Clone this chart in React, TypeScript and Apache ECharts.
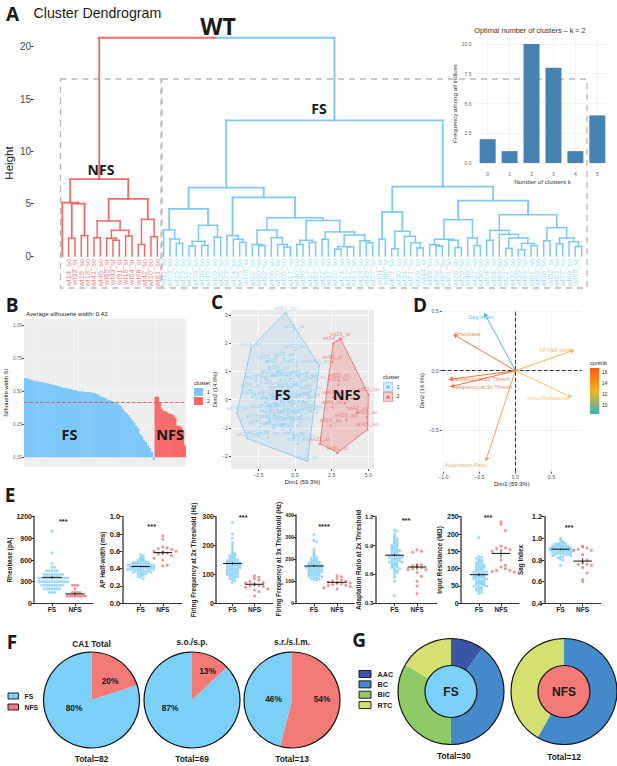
import React, { useEffect, useRef } from "react";
import * as echarts from "echarts";

// ---------- Panel A data ----------
type Node = string | [number, Node, Node];
const nfsTree: Node = [7.35,
  [5.1, "wt53_so", [5.0, [1.7, "wt14_so", "wt33_sr"], [1.95, "wt16_so", "wt18_so"]]],
  [5.45,
    [3.35, [1.75, "wt41_so", "wt46_so"], [2.45, [1.7, "wt65_sr", [1.5, "wt43_sr", "wt51_sr"]], [1.9, "wt15_sr", "wt54_sr"]]],
    [3.5, [1.1, "wt08_sr", "wt42_so"], [1.85, "wt10_so", "wt81_so"]]]];
const fsLeftTree: Node = [6.53,
  [4.5,
    [2.5, "wt11_so", [1.62, "wt03_so", [1.2, "wt25_so", "wt79_so"]]],
    [2.93, [1.4, [0.95, "wt72_so", "wt78_so"], [1.0, "wt36_so", "wt45_so"]], [1.8, "wt09_so", "wt26_so"]]],
  [5.6,
    [1.95, "wt73_so", [1.6, "wt74_so", [1.3, "wt75_so", "wt76_sr"]]],
    [3.65,
      [2.48, [1.1, "wt02_so", [1.0, "wt60_so", "wt82_so"]], [1.75, "wt06_so", [1.1, "wt70_so", [0.86, "wt05_so", "wt17_so"]]]],
      [3.4,
        [1.5, [1.1, "wt40_so", "wt56_so"], [1.3, "wt37_so", "wt62_so"]],
        [2.3, [1.6, "wt22_so", "wt47_so"],
          [2.0, [0.9, [0.65, "wt20_so", "wt24_so"], [0.85, "wt12_so", "wt13_so"]], [1.46, "wt23_so", [1.27, "wt49_so", "wt57_so"]]]]]]]];
const fsRightTree: Node = [6.62,
  [4.2,
    [1.6, "wt31_sr", "wt80_sr"],
    [2.36, [0.7, "wt07_so", "wt30_so"], [1.88, "wt34_so", [1.27, "wt71_so", [0.76, "wt19_so", "wt44_sr"]]]]],
  [5.3,
    [3.47,
      [1.6, [1.08, "wt39_so", [0.95, "wt58_so", "wt67_so"]], [1.5, "wt01_so", [0.8, "wt28_so", "wt29_so"]]],
      [1.72, "wt48_so", [1.0, "wt27_so", "wt50_so"]]],
    [3.95,
      [2.45, [1.5, "wt04_so", "wt64_so"],
        [2.07, "wt83_so", [1.72, [0.73, "wt21_so", "wt32_so"], [1.2, [0.6, "wt35_so", "wt69_so"], [1.0, "wt61_so", "wt59_so"]]]]],
      [2.7, [1.46, "wt38_so", "wt52_sr"],
        [1.72, [1.17, "wt63_so", "wt77_so"], [1.37, "wt68_so", [0.9, "wt55_sr", "wt66_so"]]]]]]];
const fsRootHeight = 12.96;
const wtRootHeight = 20.85;

const kCategories = [0, 1, 2, 3, 4, 5];
const kFrequencies = [2, 1, 10, 8, 1, 4];

// ---------- Panel B data ----------
const silhouetteFS = [
  0.6, 0.6, 0.595, 0.59, 0.585, 0.58, 0.58, 0.575, 0.57, 0.57,
  0.565, 0.56, 0.56, 0.555, 0.55, 0.55, 0.545, 0.54, 0.535, 0.53,
  0.525, 0.525, 0.52, 0.52, 0.515, 0.51, 0.51, 0.505, 0.5, 0.5,
  0.5, 0.495, 0.495, 0.495, 0.49, 0.49, 0.485, 0.48, 0.47, 0.46,
  0.455, 0.45, 0.44, 0.435, 0.43, 0.425, 0.42, 0.41, 0.4, 0.39,
  0.37, 0.35, 0.335, 0.32, 0.3, 0.28, 0.26, 0.24, 0.22, 0.175,
  0.16, 0.13, 0.115, 0.09, 0.07, 0.04, -0.02];
const silhouetteNFS = [0.46, 0.46, 0.42, 0.37, 0.35, 0.35, 0.34, 0.33, 0.33, 0.32, 0.3, 0.24, 0.24, 0.23, 0.21, 0.09];
const silhouetteAvg = 0.42;

// ---------- Panel C data ----------
const pcaFS: [string, number, number][] = [
  ["wt83_so", -0.65, 3.07], ["wt31_sr", -0.05, 2.45], ["wt11_so", -3.0, 1.82], ["wt30_so", 0.0, 1.75],
  ["wt03_sr", -1.85, 1.35], ["wt07_so", -0.75, 1.45], ["wt60_sr", -1.35, 1.2], ["wt71_so", 0.1, 1.2],
  ["wt64_so", 1.65, 1.2], ["wt59_so", -1.15, 1.0], ["wt06_so", -1.6, 0.85], ["wt05_so", -0.6, 0.85],
  ["wt25_so", -2.65, 0.65], ["wt17_so", -1.9, 0.7], ["wt19_so", -1.7, 0.45], ["wt44_sr", -1.0, 0.7],
  ["wt76_sr", -3.05, 0.35], ["wt73_so", -0.3, 0.75], ["wt72_so", -0.05, 0.55], ["wt45_so", 0.3, 0.8],
  ["wt79_so", 0.75, 0.7], ["wt26_so", 1.35, 0.65], ["wt01_so", 0.4, 0.4], ["wt50_so", 1.05, 0.3],
  ["wt58_so", 0.95, 0.05], ["wt02_so", -2.9, 0.1], ["wt74_so", -2.2, 0.05], ["wt36_so", -1.5, 0.15],
  ["wt40_so", -0.9, 0.3], ["wt56_so", -0.5, 0.35], ["wt04_so", -2.0, -0.1], ["wt62_so", -1.35, -0.1],
  ["wt09_so", -0.95, -0.05], ["wt37_so", -0.4, 0.05], ["wt22_so", 0.1, 0.1], ["wt47_so", 0.55, -0.05],
  ["wt67_so", 0.2, -0.25], ["wt69_so", -0.2, -0.2], ["wt75_so", -0.75, -0.3], ["wt12_so", -1.2, -0.35],
  ["wt24_so", -1.7, -0.35], ["wt74b_so", -3.95, -0.47], ["wt20_so", -2.3, -0.4], ["wt21_so", -1.45, -0.55],
  ["wt13_so", -0.95, -0.6], ["wt63_so", -0.5, -0.55], ["wt28_so", 0.0, -0.5], ["wt52_sr", 0.45, -0.55],
  ["wt29_so", 1.1, -0.4], ["wt35_so", 1.5, -0.45], ["wt78_so", -2.6, -0.75], ["wt48_so", -1.75, -0.75],
  ["wt55_sr", -1.2, -0.8], ["wt32_so", -0.7, -0.85], ["wt82_so", -0.15, -0.8], ["wt39_so", 0.35, -0.8],
  ["wt70_so", -2.4, -0.95], ["wt61_so", -1.45, -1.0], ["wt49_so", -0.85, -1.05], ["wt57_so", -0.3, -1.05],
  ["wt27_so", -3.25, -1.37], ["wt10b_so", -2.45, -1.3], ["wt77_so", -1.85, -1.35], ["wt68_so", -0.1, -1.35],
  ["wt23_so", 0.55, -1.4], ["wt66_so", 0.2, -1.55], ["wt38_so", 0.85, -2.18]];
const pcaNFS: [string, number, number][] = [
  ["wt15_sr", 3.1, 2.15], ["wt54_sr", 2.6, 2.0], ["wt43_sr", 2.55, 1.35], ["wt65_sr", 3.0, 0.7],
  ["wt51_so", 2.95, 0.55], ["wt53_so", 5.0, 0.2], ["wt41_so", 2.6, 0.1], ["wt46_so", 2.55, -0.25],
  ["wt10_so", 3.4, -0.1], ["wt42_so", 4.25, -0.45], ["wt18_so", 4.9, -0.6], ["wt08_so", 3.5, -0.7],
  ["wt14_so", 2.45, -0.9], ["wt16_so", 4.95, -1.05], ["wt33_sr", 1.7, -1.55], ["wt81_so", 2.9, -1.87]];
const hullFS: [number, number][] = [[-0.65, 3.07], [1.65, 1.2], [0.85, -2.18], [-3.25, -1.37], [-3.95, -0.47], [-3.0, 1.82]];
const hullNFS: [number, number][] = [[3.1, 2.15], [2.6, 2.0], [1.7, -1.55], [2.9, -1.87], [4.95, -1.05], [5.0, 0.2]];

// ---------- Panel D data ----------
const varNames = ["Sag.Index", "Rheobase", "AP.Half.width", "Frequency.at.2x.Thresh", "Frequency.at.3x.Thresh", "Input.Resistance", "Adaptation.Ratio"];
const varDim1 = [-0.43, -0.86, 0.815, -0.917, -0.9, 0.78, -0.41];
const varDim2 = [0.483, 0.305, 0.173, -0.073, -0.134, -0.223, -0.757];
const varLabelDim1 = [-0.477, -0.66, 0.56, -0.49, -0.46, 0.46, -0.685];
const varLabelDim2 = [0.45, 0.307, 0.176, -0.07, -0.14, -0.23, -0.793];
const varColors = ["#35b5bf", "#ec6a34", "#efac42", "#f0642a", "#f0642a", "#efbe45", "#f29a3e"];

// ---------- Panel E data ----------
const rheobaseFS = [1000, 700, 550, 500, 500, 450, 450, 450, 450, 450, 400, 400, 400, 400, 400, 400, 400, 400, 350, 350, 350, 350, 350, 350, 350, 350, 350, 350, 350, 350, 300, 300, 300, 300, 300, 300, 300, 300, 300, 300, 300, 300, 250, 250, 250, 250, 250, 250, 250, 250, 250, 200, 200, 200, 200, 200, 200, 200, 150, 150, 150];
const rheobaseNFS = [250, 250, 250, 200, 150, 150, 150, 150, 100, 100, 100, 100, 100, 100, 100, 100];
const halfWidthFS = [0.56, 0.55, 0.53, 0.52, 0.51, 0.5, 0.5, 0.49, 0.49, 0.48, 0.48, 0.47, 0.47, 0.47, 0.46, 0.46, 0.46, 0.45, 0.45, 0.45, 0.45, 0.44, 0.44, 0.44, 0.44, 0.43, 0.43, 0.43, 0.43, 0.43, 0.42, 0.42, 0.42, 0.42, 0.42, 0.41, 0.41, 0.41, 0.41, 0.4, 0.4, 0.4, 0.4, 0.39, 0.39, 0.39, 0.38, 0.38, 0.38, 0.37, 0.37, 0.37, 0.36, 0.36, 0.35, 0.35, 0.34, 0.34, 0.33, 0.32, 0.31, 0.3, 0.28];
const halfWidthNFS = [0.78, 0.74, 0.65, 0.64, 0.63, 0.62, 0.6, 0.6, 0.59, 0.58, 0.57, 0.55, 0.52, 0.5, 0.44, 0.43];
const freq2xFS = [280, 240, 225, 210, 200, 190, 180, 175, 172, 170, 168, 165, 162, 160, 158, 155, 152, 150, 150, 148, 146, 145, 143, 142, 140, 140, 138, 137, 136, 135, 134, 132, 130, 130, 128, 127, 125, 124, 122, 120, 120, 118, 116, 115, 113, 112, 110, 108, 106, 105, 103, 102, 100, 98, 96, 95, 92, 90, 88, 85, 82, 78, 72];
const freq2xNFS = [95, 90, 85, 80, 75, 72, 70, 65, 62, 60, 58, 55, 50, 46, 40, 25];
const freq3xFS = [312, 285, 278, 245, 235, 225, 220, 212, 208, 205, 200, 198, 195, 192, 190, 188, 186, 184, 182, 180, 178, 176, 174, 172, 170, 170, 168, 166, 165, 164, 162, 160, 158, 157, 155, 153, 152, 150, 148, 147, 145, 143, 142, 140, 138, 136, 135, 132, 130, 128, 126, 125, 122, 120, 118, 115, 112, 110, 108, 105];
const freq3xNFS = [125, 120, 112, 105, 102, 100, 96, 92, 90, 88, 85, 82, 80, 76, 70, 65];
const adaptFS = [1.06, 1.05, 1.02, 1.0, 0.98, 0.97, 0.96, 0.95, 0.94, 0.93, 0.92, 0.91, 0.9, 0.89, 0.89, 0.88, 0.87, 0.86, 0.86, 0.85, 0.84, 0.84, 0.83, 0.82, 0.82, 0.81, 0.8, 0.8, 0.79, 0.79, 0.78, 0.78, 0.77, 0.77, 0.76, 0.76, 0.75, 0.75, 0.74, 0.74, 0.73, 0.73, 0.72, 0.72, 0.71, 0.7, 0.7, 0.69, 0.68, 0.68, 0.67, 0.66, 0.65, 0.64, 0.63, 0.62, 0.6, 0.57, 0.53, 0.38];
const adaptNFS = [0.855, 0.84, 0.83, 0.7, 0.7, 0.69, 0.68, 0.67, 0.66, 0.65, 0.65, 0.62, 0.58, 0.53, 0.48, 0.4];
const resistanceFS = [190, 135, 133, 130, 126, 124, 122, 120, 118, 115, 113, 112, 110, 108, 106, 105, 103, 102, 100, 98, 96, 95, 94, 92, 90, 90, 88, 86, 85, 84, 82, 80, 80, 78, 77, 76, 75, 74, 72, 70, 70, 68, 66, 65, 64, 62, 60, 60, 58, 56, 55, 54, 52, 50, 50, 48, 46, 44, 42, 40, 38, 35, 32, 28];
const resistanceNFS = [235, 228, 210, 165, 160, 158, 155, 150, 125, 110, 105, 100, 95, 95, 92, 90];
const sagFS = [1.0, 0.98, 0.97, 0.96, 0.96, 0.95, 0.95, 0.95, 0.94, 0.94, 0.94, 0.93, 0.93, 0.93, 0.93, 0.92, 0.92, 0.92, 0.92, 0.91, 0.91, 0.91, 0.91, 0.91, 0.9, 0.9, 0.9, 0.9, 0.9, 0.89, 0.89, 0.89, 0.89, 0.89, 0.88, 0.88, 0.88, 0.88, 0.87, 0.87, 0.87, 0.87, 0.86, 0.86, 0.86, 0.85, 0.85, 0.85, 0.84, 0.84, 0.83, 0.83, 0.82, 0.81, 0.8, 0.75];
const sagNFS = [0.93, 0.92, 0.91, 0.9, 0.89, 0.89, 0.85, 0.8, 0.78, 0.76, 0.76, 0.75, 0.73, 0.68, 0.62, 0.6];
const eMeans = [[360, 130], [0.425, 0.585], [138, 66], [169, 95], [0.8, 0.677], [82.6, 144], [0.9, 0.79]];
const eSems = [[22, 18], [0.008, 0.025], [5, 6], [5, 6], [0.012, 0.03], [3.5, 12], [0.006, 0.03]];
const eTitles = ["Rheobase (pA)", "AP Half-width (ms)", "Firing Frequency at 2x Threshold (Hz)", "Firing Frequency at 3x Threshold (Hz)", "Adaptation Ratio at 2x Threshold", "Input Resistance (MΩ)", "Sag Index"];
const eStars = ["***", "***", "***", "****", "***", "***", "***"];
const eGroups = ["FS", "NFS"];

// ---------- Panels F, G data ----------
const caTotal = [{ name: "NFS", value: 20 }, { name: "FS", value: 80 }];
const soSp = [{ name: "NFS", value: 13 }, { name: "FS", value: 87 }];
const srSlm = [{ name: "NFS", value: 54 }, { name: "FS", value: 46 }];
const fTitles = ["CA1 Total", "s.o./s.p.", "s.r./s.l.m."];
const fTotals = ["Total=82", "Total=69", "Total=13"];
const fsTypes = [{ name: "AAC", value: 3 }, { name: "BC", value: 12 }, { name: "BiC", value: 10 }, { name: "RTC", value: 5 }];
const nfsTypes = [{ name: "BC", value: 7 }, { name: "RTC", value: 5 }];
const gTotals = ["Total=30", "Total=12"];

// ---------- styling ----------
const BLUE = "#7cc9f4";
const RED = "#f06a6a";
const PIE_BLUE = "#7bd0f7";
const PIE_RED = "#f47a78";
const TYPE_COLORS: Record<string, string> = { AAC: "#3a55a4", BC: "#4489c9", BiC: "#8fca67", RTC: "#d4e070" };
const SANS = "Liberation Sans";
const BOLD = "Open Sans";

function flatten(n: Node): string[] {
  return typeof n === "string" ? [n] : [...flatten(n[1]), ...flatten(n[2])];
}
const leafLabels = [...flatten(nfsTree), ...flatten(fsLeftTree), ...flatten(fsRightTree)];
const nfsCount = flatten(nfsTree).length;

type Seg = [number, number, number, number, string, number];
function buildSegments(): Seg[] {
  const segs: Seg[] = [];
  let leaf = 0;
  const walk = (n: Node, c: string): { x: number; h: number } => {
    if (typeof n === "string") return { x: leaf++, h: 0 };
    const l = walk(n[1], c);
    const r = walk(n[2], c);
    const lw = n[0] > 4 ? 1.8 : 1.5;
    segs.push([l.x, l.h, l.x, n[0], c, lw], [r.x, r.h, r.x, n[0], c, lw], [l.x, n[0], r.x, n[0], c, lw]);
    return { x: (l.x + r.x) / 2, h: n[0] };
  };
  const nfs = walk(nfsTree, RED);
  const fsTree: Node = [fsRootHeight, fsLeftTree, fsRightTree];
  const fs = walk(fsTree, BLUE);
  const mid = (nfs.x + fs.x) / 2;
  segs.push([nfs.x, nfs.h, nfs.x, wtRootHeight, RED, 1.9], [nfs.x, wtRootHeight, mid, wtRootHeight, RED, 1.9],
    [mid, wtRootHeight, fs.x, wtRootHeight, BLUE, 1.9], [fs.x, fs.h, fs.x, wtRootHeight, BLUE, 1.9]);
  return segs;
}

function swarm(vals: number[], center: number, bin: number, step: number): [number, number][] {
  const counts = new Map<number, number>();
  return vals.map((v) => {
    const k = Math.round(v / bin);
    const c = counts.get(k) ?? 0;
    counts.set(k, c + 1);
    const off = c === 0 ? 0 : (c % 2 ? 1 : -1) * Math.ceil(c / 2) * step;
    return [center + off, v];
  });
}

function txt(text: string, x: number, y: number, fontSize: number, opts: any = {}) {
  const { fill = "#1a1a1a", weight = "normal", family = SANS, align = "center", rotation = 0, z = 30 } = opts;
  return { type: "text", x, y, rotation, z, style: { text, fontSize, fontFamily: family, fontWeight: weight, fill, align, verticalAlign: "middle" } };
}

function buildOption() {
  const grid: any[] = [];
  const xAxis: any[] = [];
  const yAxis: any[] = [];
  const series: any[] = [];
  const graphic: any[] = [];
  const addGrid = (g: any, x: any, y: any) => {
    grid.push({ containLabel: false, ...g });
    xAxis.push({ gridIndex: grid.length - 1, ...x });
    yAxis.push({ gridIndex: grid.length - 1, ...y });
    return grid.length - 1;
  };

  // ===== A: dendrogram =====
  const a = addGrid(
    { left: 62.3, top: 46.7, width: 519.4, height: 209.3 },
    {
      type: "value", min: 0, max: leafLabels.length - 1, interval: 1, splitLine: { show: false }, axisLine: { show: false, onZero: false }, axisTick: { show: false },
      axisLabel: {
        rotate: 90, margin: 3, fontSize: 7.4, fontFamily: SANS,
        formatter: (v: number) => leafLabels[v] ?? "",
        color: (v: any) => (Number(v) < nfsCount ? "#f28a8a" : "#a5dcf6"),
      },
    },
    { type: "value", min: 0, max: 20, interval: 5, show: false, splitLine: { show: false } });
  // the height axis stands apart from the plot, in a narrow grid of its own
  addGrid(
    { left: 33.5, top: 46.7, width: 1, height: 209.3 },
    { type: "value", min: 0, max: 1, show: false, splitLine: { show: false } },
    {
      type: "value", min: 0, max: 20, interval: 5, splitLine: { show: false },
      axisLine: { show: false, onZero: false }, axisTick: { show: true, length: 2.5, lineStyle: { color: "#333" } },
      axisLabel: { fontSize: 10, color: "#4a4a4a", margin: 2.5, fontFamily: SANS },
    });
  const segs = buildSegments();
  series.push({
    type: "custom", xAxisIndex: a, yAxisIndex: a, silent: true, clip: false,
    data: segs.map((s) => [s[0], s[1], s[2], s[3]]),
    renderItem: (p: any, api: any) => {
      const s = segs[p.dataIndex];
      const c1 = api.coord([s[0], s[1]]);
      const c2 = api.coord([s[2], s[3]]);
      return { type: "line", shape: { x1: c1[0], y1: c1[1], x2: c2[0], y2: c2[1] }, style: { stroke: s[4], lineWidth: s[5], lineCap: "square" } };
    },
  });
  graphic.push(
    { type: "rect", z: 1, shape: { x: 60.5, y: 79, width: 100.5, height: 209 }, style: { fill: "none", stroke: "#b8b8b8", lineWidth: 1.3, lineDash: [6, 5] } },
    { type: "rect", z: 1, shape: { x: 162, y: 79, width: 425, height: 209 }, style: { fill: "none", stroke: "#b8b8b8", lineWidth: 1.3, lineDash: [6, 5] } },
    txt("A", 12.5, 14, 19, { weight: "bold", family: BOLD }),
    txt("Cluster Dendrogram", 33.5, 12.5, 14.2, { align: "left" }),
    txt("WT", 218, 26, 23, { weight: "bold", family: BOLD }),
    txt("FS", 319, 108, 14, { weight: "bold", family: BOLD }),
    txt("NFS", 101, 169, 14, { weight: "bold", family: BOLD }),
    txt("Height", 8.5, 163, 11.5, { rotation: Math.PI / 2 }),
    txt("Optimal number of clusters – k = 2", 530, 30.7, 7.3, { fill: "#333" }),
  );

  // inset
  const inset = addGrid(
    { left: 474.5, top: 38, width: 136, height: 131 },
    {
      type: "value", min: -0.6, max: 5.6,
      splitLine: { show: true, lineStyle: { color: "#ececec", width: 0.6 } }, axisLine: { show: false, onZero: false },
      axisTick: { show: false, customValues: kCategories },
      axisLabel: { customValues: kCategories, fontSize: 5, color: "#666", margin: 2, fontFamily: SANS },
      name: "Number of clusters k", nameLocation: "middle", nameGap: 9, nameTextStyle: { fontSize: 6.2, color: "#333", fontFamily: SANS },
    },
    {
      type: "value", min: -0.5, max: 10.5,
      splitLine: { show: true, lineStyle: { color: "#ececec", width: 0.6 } }, axisLine: { show: false, onZero: false },
      axisTick: { show: false, customValues: [0, 2.5, 5, 7.5, 10] },
      axisLabel: { customValues: [0, 2.5, 5, 7.5, 10], fontSize: 5, color: "#666", margin: 3, fontFamily: SANS, formatter: (v: number) => v.toFixed(1) },
      name: "Frequency among all indices", nameLocation: "middle", nameGap: 15.5, nameTextStyle: { fontSize: 6.2, color: "#333", fontFamily: SANS },
    });
  series.push({
    type: "bar", xAxisIndex: inset, yAxisIndex: inset, barWidth: 16, z: 5,
    data: kCategories.map((k, i) => [k, kFrequencies[i]]), itemStyle: { color: "#4682b4" },
  });

  // ===== B: silhouette =====
  const silAll = [...silhouetteFS, ...silhouetteNFS];
  const yB = [0, 0.25, 0.5, 0.75, 1];
  const b = addGrid(
    { left: 24, top: 319, width: 162, height: 148, show: true, backgroundColor: "#ebebeb", borderWidth: 0 },
    {
      type: "category", data: silAll.map((_, i) => i), axisLabel: { show: false }, axisTick: { show: false }, axisLine: { show: false },
      splitLine: { show: true, interval: 0, lineStyle: { color: "#f6f6f6", width: 0.5 } },
    },
    {
      type: "value", min: -0.074, max: 1.05,
      splitLine: { show: true, lineStyle: { color: "#f6f6f6", width: 0.6 } }, axisLine: { show: false, onZero: false },
      axisTick: { show: true, length: 2, customValues: yB, lineStyle: { color: "#555" } },
      axisLabel: { customValues: yB, fontSize: 4.6, color: "#666", margin: 2, fontFamily: SANS, formatter: (v: number) => v.toFixed(2) },
      name: "Silhouette width Si", nameLocation: "middle", nameGap: 13, nameTextStyle: { fontSize: 5.8, color: "#222", fontFamily: SANS },
    });
  series.push({
    type: "bar", xAxisIndex: b, yAxisIndex: b, barWidth: 2.4,
    data: silAll.map((v, i) => ({ value: v, itemStyle: { color: i < silhouetteFS.length ? "#7cc8fb" : "#fb6767" } })),
    markLine: { silent: true, symbol: "none", label: { show: false }, lineStyle: { color: "#e8525a", type: "dashed", width: 0.9 }, data: [{ yAxis: silhouetteAvg }] },
  });
  graphic.push(
    txt("B", 12, 305, 19, { weight: "bold", family: BOLD }),
    txt("Average silhouette width: 0.42", 26, 313, 6.1, { align: "left", fill: "#222" }),
    txt("FS", 69.5, 434, 14.5, { weight: "bold", family: BOLD }),
    txt("NFS", 170, 434, 14.5, { weight: "bold", family: BOLD }),
    txt("cluster", 194, 383, 5.6, { align: "left" }),
    { type: "rect", z: 10, shape: { x: 194, y: 388, width: 9, height: 8 }, style: { fill: "#7cc8fb" } },
    { type: "rect", z: 10, shape: { x: 194, y: 397, width: 9, height: 8 }, style: { fill: "#fb6767" } },
    txt("1", 207, 392, 4.8, { align: "left" }),
    txt("2", 207, 401, 4.8, { align: "left" }),
  );

  // ===== C: PCA =====
  const xC = [-2.5, 0, 2.5, 5];
  const yC = [-2, -1, 0, 1, 2, 3];
  const c = addGrid(
    { left: 231, top: 310, width: 143, height: 159, show: true, backgroundColor: "#ebebeb", borderWidth: 0 },
    {
      type: "value", min: -4.36, max: 5.385, splitLine: { show: true, lineStyle: { color: "#fff", width: 0.7 } }, axisLine: { show: false, onZero: false },
      axisTick: { show: true, length: 2, customValues: xC, lineStyle: { color: "#555" } },
      axisLabel: { customValues: xC, fontSize: 5.2, color: "#555", margin: 3, fontFamily: SANS, formatter: (v: number) => (v === 0 ? "0.0" : v.toFixed(1).replace("-", "−")) },
      name: "Dim1 (59.3%)", nameLocation: "middle", nameGap: 10, nameTextStyle: { fontSize: 5.8, color: "#222", fontFamily: SANS },
    },
    {
      type: "value", min: -2.45, max: 3.17, splitLine: { show: true, lineStyle: { color: "#fff", width: 0.7 } }, axisLine: { show: false, onZero: false },
      axisTick: { show: true, length: 2, customValues: yC, lineStyle: { color: "#555" } },
      axisLabel: { customValues: yC, fontSize: 5.2, color: "#555", margin: 3, fontFamily: SANS, formatter: (v: number) => String(v).replace("-", "−") },
      name: "Dim2 (14.6%)", nameLocation: "middle", nameGap: 11, nameTextStyle: { fontSize: 5.8, color: "#222", fontFamily: SANS },
    });
  const poly = (pts: [number, number][], fill: string, stroke: string) => ({
    type: "custom", xAxisIndex: c, yAxisIndex: c, silent: true, clip: false, z: 2, data: pts,
    renderItem: (p: any, api: any) => p.dataIndex === 0 ? { type: "polygon", shape: { points: pts.map((q) => api.coord(q)) }, style: { fill, stroke, lineWidth: 0.9 } } : null,
  });
  series.push(poly(hullFS, "rgba(125,200,245,0.18)", "#86c9ef"), poly(hullNFS, "rgba(240,90,90,0.25)", "#ee6f6f"));
  const pcaScatter = (rows: [string, number, number][], color: string, symbol: string, size: number) => ({
    type: "scatter", xAxisIndex: c, yAxisIndex: c, silent: true, z: 3, symbol, symbolSize: size,
    data: rows.map((r) => ({ value: [r[1], r[2]], name: r[0].replace("b_", "_") })),
    itemStyle: { color },
    label: { show: true, position: "top", distance: 0.5, fontSize: 5.9, color, fontFamily: SANS, formatter: "{b}" },
    labelLayout: { hideOverlap: false },
  });
  series.push(pcaScatter(pcaFS, "#8fd0f4", "circle", 2.2), pcaScatter(pcaNFS, "#ef6f70", "triangle", 2.8));
  graphic.push(
    txt("C", 217, 302, 19, { weight: "bold", family: BOLD }),
    txt("FS", 282.5, 394.5, 14.5, { weight: "bold", family: BOLD }),
    txt("NFS", 346.5, 394.5, 14.5, { weight: "bold", family: BOLD }),
    txt("cluster", 383, 376.7, 5.6, { align: "left" }),
    { type: "rect", z: 10, shape: { x: 383.5, y: 382.5, width: 9, height: 9 }, style: { fill: "rgba(125,200,245,0.35)", stroke: "#86c9ef", lineWidth: 0.7 } },
    { type: "circle", z: 11, shape: { cx: 388, cy: 387, r: 1.6 }, style: { fill: "#6fc0ee" } },
    { type: "rect", z: 10, shape: { x: 383.5, y: 392.3, width: 9, height: 9 }, style: { fill: "rgba(240,90,90,0.3)", stroke: "#ee6f6f", lineWidth: 0.7 } },
    { type: "polygon", z: 11, shape: { points: [[388, 394.8], [386, 398.5], [390, 398.5]] }, style: { fill: "#ee5f60" } },
    txt("1", 396.7, 387, 4.8, { align: "left" }),
    txt("2", 396.7, 396.8, 4.8, { align: "left" }),
  );

  // ===== D: variables =====
  const xD = [-1, -0.5, 0, 0.5];
  const yD = [-0.5, 0, 0.5];
  const dXmin = -1.022, dXmax = 0.92, dYmin = -0.848, dYmax = 0.51;
  const d = addGrid(
    { left: 441.7, top: 310, width: 140, height: 161.7 },
    {
      type: "value", min: dXmin, max: dXmax, splitLine: { show: true, lineStyle: { color: "#ececec", width: 0.7 } }, axisLine: { show: false, onZero: false },
      axisTick: { show: true, length: 2, customValues: xD, lineStyle: { color: "#555" } },
      axisLabel: { customValues: xD, fontSize: 5.2, color: "#555", margin: 3, fontFamily: SANS, formatter: (v: number) => v.toFixed(1).replace("-", "−") },
      name: "Dim1 (59.3%)", nameLocation: "middle", nameGap: 9.5, nameTextStyle: { fontSize: 5.8, color: "#222", fontFamily: SANS },
    },
    {
      type: "value", min: dYmin, max: dYmax, splitLine: { show: true, lineStyle: { color: "#ececec", width: 0.7 } }, axisLine: { show: false, onZero: false },
      axisTick: { show: true, length: 2, customValues: yD, lineStyle: { color: "#555" } },
      axisLabel: { customValues: yD, fontSize: 5.2, color: "#555", margin: 3, fontFamily: SANS, formatter: (v: number) => v.toFixed(1).replace("-", "−") },
      name: "Dim2 (14.6%)", nameLocation: "middle", nameGap: 12, nameTextStyle: { fontSize: 5.8, color: "#222", fontFamily: SANS },
    });
  series.push({
    type: "lines", coordinateSystem: "cartesian2d", xAxisIndex: d, yAxisIndex: d, silent: true, z: 3,
    symbol: "none", lineStyle: { color: "#333", type: "dashed", width: 1, opacity: 1 },
    data: [{ coords: [[dXmin, 0], [dXmax, 0]] }, { coords: [[0, dYmin], [0, dYmax]] }],
  });
  series.push({
    type: "lines", coordinateSystem: "cartesian2d", xAxisIndex: d, yAxisIndex: d, silent: true, z: 4,
    symbol: ["none", "arrow"], symbolSize: 4,
    data: varNames.map((_, i) => ({ coords: [[0, 0], [varDim1[i], varDim2[i]]], lineStyle: { color: varColors[i], width: 0.9, opacity: 1 } })),
  });
  series.push({
    type: "scatter", xAxisIndex: d, yAxisIndex: d, silent: true, z: 5, symbolSize: 0.1,
    data: varNames.map((n, i) => ({
      value: [varLabelDim1[i], varLabelDim2[i]], name: n,
      label: { show: true, position: "inside", color: varColors[i], fontSize: 5.7, fontFamily: SANS, formatter: "{b}" },
    })),
    labelLayout: { hideOverlap: false },
  });
  graphic.push(
    txt("D", 420, 305, 19, { weight: "bold", family: BOLD }),
    txt("contrib", 590, 362.5, 5.6, { align: "left" }),
    {
      type: "rect", z: 10, shape: { x: 590, y: 368, width: 9.3, height: 46 },
      style: { fill: new echarts.graphic.LinearGradient(0, 0, 0, 1, [{ offset: 0, color: "#fb5a10" }, { offset: 0.5, color: "#eeb41e" }, { offset: 1, color: "#37b3bd" }]) },
    },
    txt("16", 602, 372.7, 4.8, { align: "left" }),
    txt("14", 602, 383.3, 4.8, { align: "left" }),
    txt("12", 602, 394, 4.8, { align: "left" }),
    txt("10", 602, 405, 4.8, { align: "left" }),
  );

  // ===== E: swarm panels =====
  const eData = [[rheobaseFS, rheobaseNFS], [halfWidthFS, halfWidthNFS], [freq2xFS, freq2xNFS], [freq3xFS, freq3xNFS], [adaptFS, adaptNFS], [resistanceFS, resistanceNFS], [sagFS, sagNFS]];
  const eLayout = [
    { ax: 34, fs: 52, nfs: 75, right: 93, top: 516.7, min: 0, max: 1200, step: 300, dec: 0, gap: 22, tick: 7, starX: 63.3, starY: 521, spread: 1 },
    { ax: 122.3, fs: 140.7, nfs: 162.8, right: 182, top: 516.7, min: 0, max: 1, step: 0.2, dec: 1, gap: 17, tick: 7.5, starX: 151.7, starY: 526, spread: 3 },
    { ax: 216, fs: 232.4, nfs: 254.5, right: 272.7, top: 516.7, min: 0, max: 300, step: 100, dec: 0, gap: 20, tick: 7, starX: 243, starY: 517, spread: 2.5 },
    { ax: 296, fs: 314, nfs: 337, right: 354.5, top: 515, min: 0, max: 400, step: 100, dec: 0, gap: 14.5, tick: 5.2, starX: 324, starY: 526, spread: 2.5 },
    { ax: 375.3, fs: 394.5, nfs: 417, right: 436.8, top: 516.7, min: 0.3, max: 1.2, step: 0.3, dec: 1, gap: 13.5, tick: 6, starX: 406, starY: 520, spread: 2.5 },
    { ax: 460.7, fs: 479, nfs: 501, right: 519, top: 516.7, min: 0, max: 250, step: 50, dec: 0, gap: 18, tick: 7, starX: 488, starY: 517, spread: 3 },
    { ax: 544.3, fs: 560.5, nfs: 582.6, right: 600.8, top: 516.7, min: 0.4, max: 1.2, step: 0.2, dec: 1, gap: 21, tick: 7.5, starX: 569, starY: 527, spread: 3 },
  ];
  eLayout.forEach((L, i) => {
    const u = L.nfs - L.fs;
    const h = 603.3 - L.top;
    const e = addGrid(
      { left: L.ax, top: L.top, width: L.right - L.ax, height: h },
      {
        type: "value", min: 1 - (L.fs - L.ax) / u, max: 2 + (L.right - L.nfs) / u, splitLine: { show: false },
        axisLine: { show: true, onZero: false, lineStyle: { color: "#333", width: 1 } },
        axisTick: { show: true, length: 3, customValues: [1, 2], lineStyle: { color: "#333" } },
        axisLabel: { customValues: [1, 2], fontSize: 6.6, fontWeight: "bold", color: "#222", margin: 3, fontFamily: SANS, formatter: (v: number) => eGroups[v - 1] ?? "" },
      },
      {
        type: "value", min: L.min, max: L.max, interval: L.step, splitLine: { show: false },
        axisLine: { show: true, onZero: false, lineStyle: { color: "#6a6a6a", width: 1.8 } },
        axisTick: { show: true, length: 3, lineStyle: { color: "#333", width: 1 } },
        axisLabel: { fontSize: L.tick, fontWeight: "bold", color: "#222", margin: 2, fontFamily: SANS, formatter: (v: number) => v.toFixed(L.dec) },
        name: eTitles[i], nameLocation: "middle", nameGap: L.gap, nameTextStyle: { fontSize: 6.4, fontWeight: "bold", color: "#222", fontFamily: SANS },
      });
    const bin = ((L.max - L.min) / h) * 2.3;
    const step = 2.6 / u;
    const stacked = (vals: number[], center: number, color: string, b2: number, s2: number) => ({
      type: "scatter", xAxisIndex: e, yAxisIndex: e, silent: true, symbolSize: 3, z: 3,
      data: swarm(vals, center, b2, s2), itemStyle: { color },
    });
    series.push(
      stacked(eData[i][0], 1, "#84d0f6", bin, step),
      stacked(eData[i][1], 2, "#ef7676", bin * L.spread, L.spread > 1 ? step * 1.7 : step),
    );
    const ms = [0, 1].map((k) => [k + 1, eMeans[i][k], eSems[i][k]]);
    series.push({
      type: "custom", xAxisIndex: e, yAxisIndex: e, silent: true, z: 6, clip: false, data: ms,
      renderItem: (_: any, api: any) => {
        const x = api.value(0), m = api.value(1), s = api.value(2);
        const a1 = api.coord([x - 0.42, m]), a2 = api.coord([x + 0.42, m]);
        const b1 = api.coord([x, m - s]), b2 = api.coord([x, m + s]);
        return {
          type: "group", children: [
            { type: "line", shape: { x1: a1[0], y1: a1[1], x2: a2[0], y2: a2[1] }, style: { stroke: "#111", lineWidth: 1 } },
            { type: "line", shape: { x1: b1[0], y1: b1[1], x2: b2[0], y2: b2[1] }, style: { stroke: "#111", lineWidth: 0.8 } },
          ],
        };
      },
    });
    graphic.push(txt(eStars[i], L.starX, L.starY, 7.5, { weight: "bold" }));
  });
  graphic.push(txt("E", 10, 495, 19, { weight: "bold", family: BOLD }));

  // ===== F: pies =====
  const pie = (data: any[], cx: number, cy: number, inner: number, outer: number, colorOf: (n: string) => string) => ({
    type: "pie", center: [cx, cy], radius: [inner, outer], startAngle: 90, silent: true, label: { show: false }, labelLine: { show: false },
    data: data.map((d) => ({ ...d, itemStyle: { color: colorOf(d.name) } })),
  });
  const fColor = (n: string) => (n === "FS" ? PIE_BLUE : PIE_RED);
  const fData = [caTotal, soSp, srSlm];
  const fCx = [91.5, 192, 292];
  const fPctPos = [[[110, 680.7], [74, 708]], [[207.5, 670.7], [170, 708]], [[322, 699], [273.5, 699]]];
  fData.forEach((dd, i) => {
    series.push(pie(dd, fCx[i], 700, 0, 48, fColor));
    graphic.push({ type: "circle", z: 20, shape: { cx: fCx[i], cy: 700, r: 48 }, style: { fill: "none", stroke: "#111", lineWidth: 1.2 } });
    dd.forEach((row, k) => graphic.push(txt(`${row.value}%`, fPctPos[i][k][0], fPctPos[i][k][1], 8.4, { weight: "bold" })));
    graphic.push(txt(fTitles[i], fCx[i], i === 0 ? 644 : 642, 8.4, { weight: "bold" }), txt(fTotals[i], fCx[i], 759, 8.4, { weight: "bold" }));
  });
  graphic.push(
    txt("F", 12, 642, 19, { weight: "bold", family: BOLD }),
    { type: "rect", z: 20, shape: { x: 8, y: 693, width: 10.5, height: 6 }, style: { fill: PIE_BLUE, stroke: "#111", lineWidth: 0.9 } },
    { type: "rect", z: 20, shape: { x: 8, y: 704, width: 10.5, height: 6 }, style: { fill: PIE_RED, stroke: "#111", lineWidth: 0.9 } },
    txt("FS", 24.5, 696, 6.8, { align: "left", weight: "bold" }),
    txt("NFS", 24.5, 707, 6.8, { align: "left", weight: "bold" }),
  );

  // ===== G: donuts =====
  const tColor = (n: string) => TYPE_COLORS[n];
  const gCx = [451, 564];
  [fsTypes, nfsTypes].forEach((dd, i) => {
    series.push(pie(dd, gCx[i], 691.5, 26, 53, tColor));
    series.push(pie([{ name: eGroups[i], value: 1 }], gCx[i], 691.5, 0, 26, fColor));
    graphic.push(
      { type: "circle", z: 20, shape: { cx: gCx[i], cy: 691.5, r: 53 }, style: { fill: "none", stroke: "#111", lineWidth: 1.2 } },
      { type: "circle", z: 20, shape: { cx: gCx[i], cy: 691.5, r: 26 }, style: { fill: "none", stroke: "#111", lineWidth: 1.2 } },
      txt(eGroups[i], gCx[i], 691.5, 12, { weight: "bold" }),
      txt(gTotals[i], i === 0 ? 453.8 : 564, i === 0 ? 755.5 : 756.7, 8.4, { weight: "bold" }),
    );
  });
  graphic.push(txt("G", 359, 640, 19, { weight: "bold", family: BOLD }));
  ["AAC", "BC", "BiC", "RTC"].forEach((n, i) => {
    const y = 674 + i * 10.35;
    graphic.push(
      { type: "rect", z: 20, shape: { x: 359, y: y - 3.5, width: 12, height: 7 }, style: { fill: TYPE_COLORS[n], stroke: "#111", lineWidth: 0.9 } },
      txt(n, 377.5, y, 7.2, { align: "left", weight: "bold" }),
    );
  });

  return { animation: false, backgroundColor: "#ffffff", grid, xAxis, yAxis, series, graphic: { elements: graphic } };
}

export default function App() {
  const ref = useRef<HTMLDivElement>(null);
  useEffect(() => {
    document.body.style.margin = "0";
    const chart = echarts.init(ref.current!, undefined, { renderer: "svg" });
    chart.setOption(buildOption() as any);
    return () => chart.dispose();
  }, []);
  return <div ref={ref} style={{ width: 617, height: 766, position: "absolute", left: 0, top: 0 }} />;
}
